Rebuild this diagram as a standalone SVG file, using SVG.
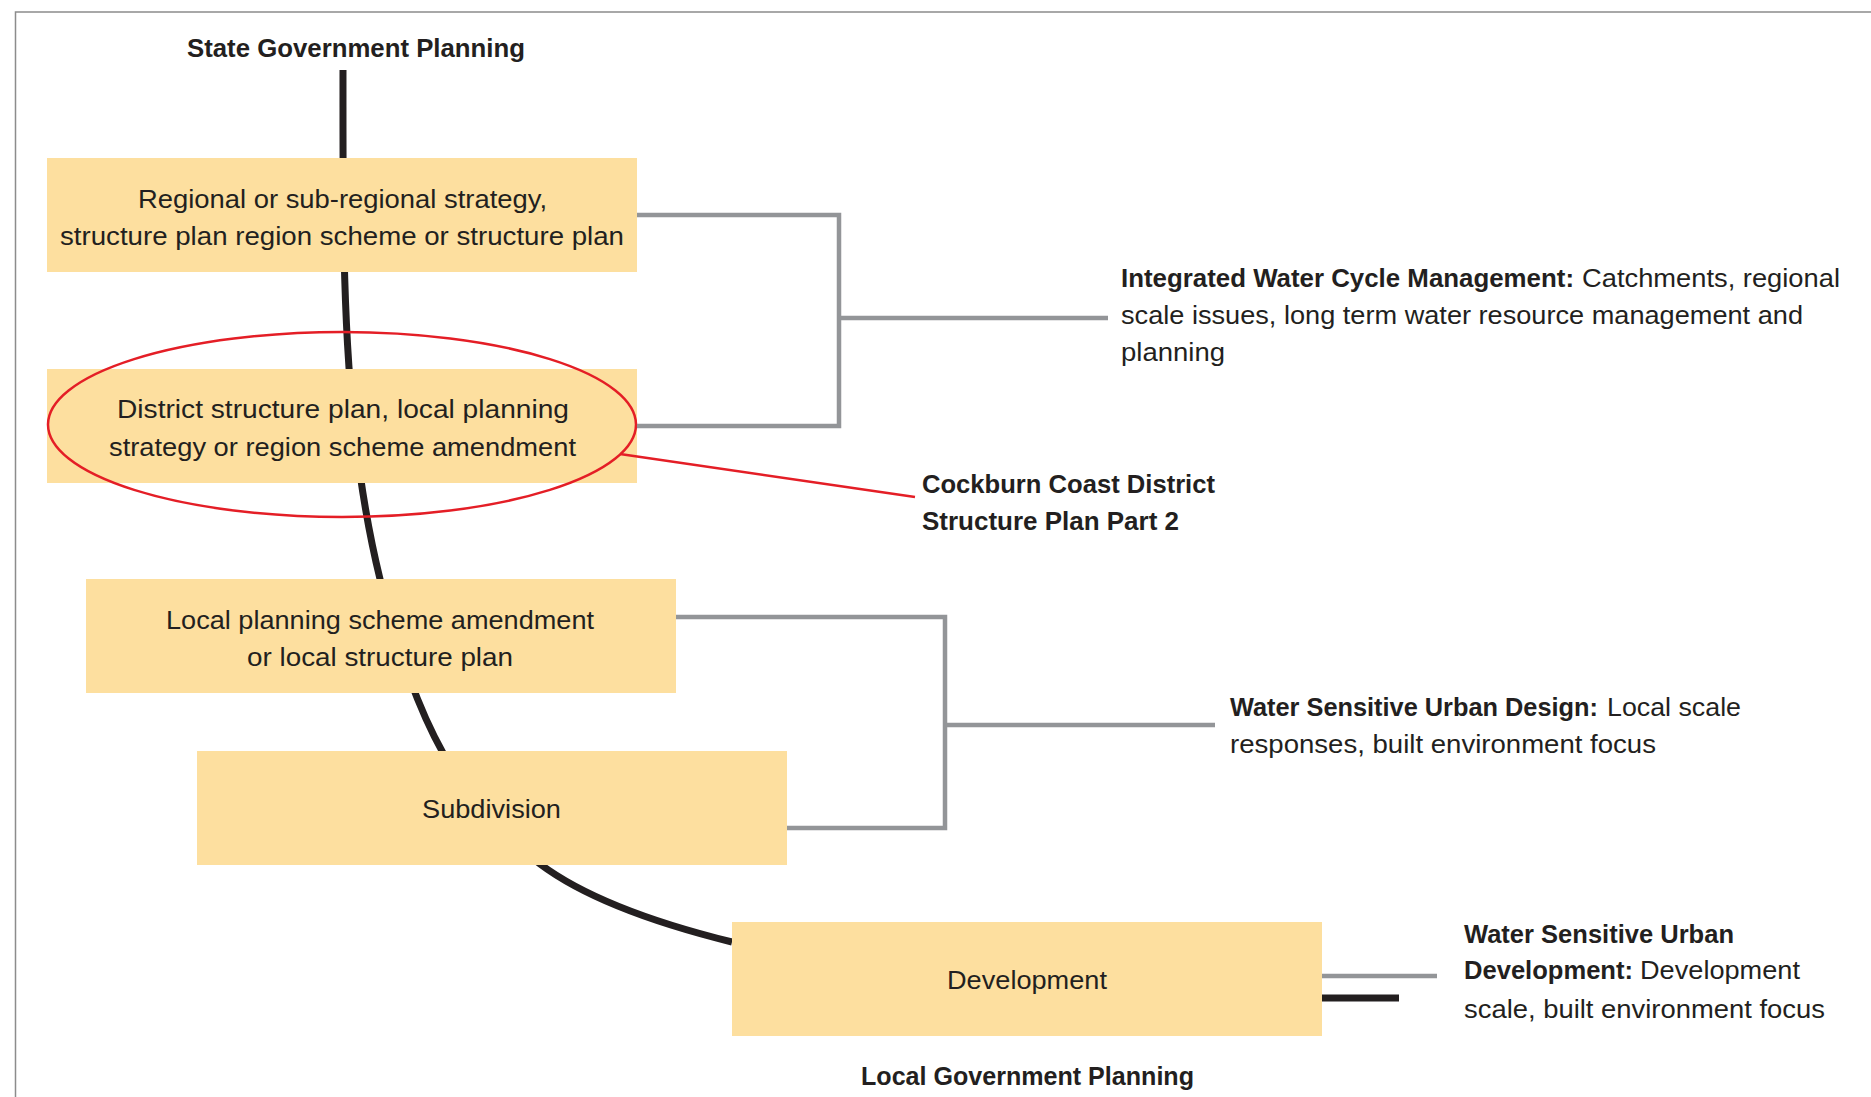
<svg xmlns="http://www.w3.org/2000/svg" width="1871" height="1097" viewBox="0 0 1871 1097">
  <style>
    .t { font-family: "Liberation Sans", Arial, sans-serif; font-size: 26px; fill: #231f20; }
    .b { font-weight: bold; }
    .box { fill: #fddf9f; }
    .gray { fill: none; stroke: #939598; stroke-width: 4.5; stroke-linejoin: miter; }
    .spine { fill: none; stroke: #231f20; stroke-width: 7; }
    .red { fill: none; stroke: #e41e26; stroke-width: 2.5; }
  </style>
  <rect x="0" y="0" width="1871" height="1097" fill="#ffffff"/>
  <path d="M15.5,1097 V12 H1871" fill="none" stroke="#8c8c8c" stroke-width="1.5"/>

  <g id="spine">
    <path class="spine" d="M343,70 C343,250 341,420 380,579 C415.7,724.7 460,804 540,864 C588,900 664,925.2 732,942"/>
  </g>

  <g id="title-state">
    <text class="t b" x="187" y="56.5" textLength="338" lengthAdjust="spacingAndGlyphs">State Government Planning</text>
  </g>

  <g id="node-regional">
    <rect class="box" x="47" y="158" width="590" height="114"/>
    <text class="t" x="138" y="207.5" textLength="409" lengthAdjust="spacingAndGlyphs">Regional or sub-regional strategy,</text>
    <text class="t" x="60" y="244.5" textLength="564" lengthAdjust="spacingAndGlyphs">structure plan region scheme or structure plan</text>
  </g>

  <g id="node-district">
    <rect class="box" x="47" y="369" width="590" height="114"/>
    <text class="t" x="117" y="417.5" textLength="452" lengthAdjust="spacingAndGlyphs">District structure plan, local planning</text>
    <text class="t" x="109" y="455.5" textLength="467" lengthAdjust="spacingAndGlyphs">strategy or region scheme amendment</text>
    <ellipse class="red" cx="342" cy="424.5" rx="294" ry="92.5"/>
  </g>

  <g id="node-local">
    <rect class="box" x="86" y="579" width="590" height="114"/>
    <text class="t" x="166" y="628.5" textLength="428" lengthAdjust="spacingAndGlyphs">Local planning scheme amendment</text>
    <text class="t" x="247" y="665.5" textLength="266" lengthAdjust="spacingAndGlyphs">or local structure plan</text>
  </g>

  <g id="node-subdivision">
    <rect class="box" x="197" y="751" width="590" height="114"/>
    <text class="t" x="422" y="818" textLength="139" lengthAdjust="spacingAndGlyphs">Subdivision</text>
  </g>

  <g id="node-development">
    <rect class="box" x="732" y="922" width="590" height="114"/>
    <text class="t" x="947" y="989" textLength="160" lengthAdjust="spacingAndGlyphs">Development</text>
  </g>

  <g id="title-local">
    <text class="t b" x="861" y="1085" textLength="333" lengthAdjust="spacingAndGlyphs">Local Government Planning</text>
  </g>

  <g id="connectors">
    <path class="gray" d="M637,215 H839 V426 H637 M839,318 H1108"/>
    <path class="gray" d="M676,617 H945 V828 H787 M945,725 H1215"/>
    <path class="gray" d="M1322,976 H1437"/>
    <path d="M1322,998 H1399" fill="none" stroke="#231f20" stroke-width="7"/>
    <path class="red" d="M620,454 L915,497"/>
  </g>

  <g id="label-cockburn">
    <text class="t b" x="922" y="493" textLength="293" lengthAdjust="spacingAndGlyphs">Cockburn Coast District</text>
    <text class="t b" x="922" y="530" textLength="257" lengthAdjust="spacingAndGlyphs">Structure Plan Part 2</text>
  </g>

  <g id="label-iwcm">
    <text class="t b" x="1121" y="286.5" textLength="453" lengthAdjust="spacingAndGlyphs">Integrated Water Cycle Management:</text>
    <text class="t" x="1582" y="286.5" textLength="258" lengthAdjust="spacingAndGlyphs">Catchments, regional</text>
    <text class="t" x="1121" y="323.5" textLength="682" lengthAdjust="spacingAndGlyphs">scale issues, long term water resource management and</text>
    <text class="t" x="1121" y="360.5" textLength="104" lengthAdjust="spacingAndGlyphs">planning</text>
  </g>

  <g id="label-wsud">
    <text class="t b" x="1230" y="715.5" textLength="368" lengthAdjust="spacingAndGlyphs">Water Sensitive Urban Design:</text>
    <text class="t" x="1607" y="715.5" textLength="134" lengthAdjust="spacingAndGlyphs">Local scale</text>
    <text class="t" x="1230" y="753" textLength="426" lengthAdjust="spacingAndGlyphs">responses, built environment focus</text>
  </g>

  <g id="label-wsudev">
    <text class="t b" x="1464" y="942.5" textLength="270" lengthAdjust="spacingAndGlyphs">Water Sensitive Urban</text>
    <text class="t b" x="1464" y="979" textLength="169" lengthAdjust="spacingAndGlyphs">Development:</text>
    <text class="t" x="1640" y="979" textLength="160" lengthAdjust="spacingAndGlyphs">Development</text>
    <text class="t" x="1464" y="1017.5" textLength="361" lengthAdjust="spacingAndGlyphs">scale, built environment focus</text>
  </g>
</svg>
